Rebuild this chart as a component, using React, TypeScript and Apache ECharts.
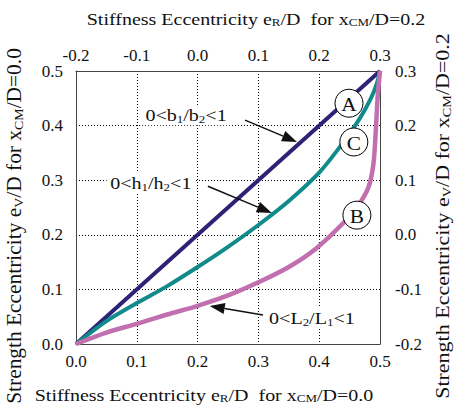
import React, { useEffect, useRef } from "react";
import * as echarts from "echarts";

// ---- data ----
const bottomXRange = [0, 0.5];
const topXRange = [-0.2, 0.3];
const leftYRange = [0, 0.5];
const rightYRange = [-0.2, 0.3];
const tickStep = 0.1;

const curveA: [number, number][] = [
  [0, 0],
  [0.5, 0.5],
];
const curveC: [number, number][] = [
  [0, 0], [0.05, 0.042], [0.1, 0.075], [0.15, 0.106], [0.2, 0.141], [0.25, 0.178],
  [0.3, 0.218], [0.35, 0.262], [0.4, 0.314], [0.434, 0.361], [0.465, 0.41],
  [0.485, 0.45], [0.495, 0.478], [0.5, 0.5],
];
const curveB: [number, number][] = [
  [0, 0], [0.05, 0.021], [0.1, 0.037], [0.15, 0.054], [0.2, 0.07], [0.25, 0.089],
  [0.3, 0.113], [0.35, 0.141], [0.395, 0.175], [0.44, 0.222], [0.465, 0.255],
  [0.481, 0.287], [0.489, 0.328], [0.493, 0.389], [0.496, 0.45], [0.5, 0.5],
];

const circleNames = ["A", "C", "B"];
const circlePositions: [number, number][] = [
  [0.449, 0.441],
  [0.457, 0.37],
  [0.462, 0.236],
];

const noteTexts = [
  "{n|0<b}{s|1}{n|/b}{s|2}{n|<1}",
  "{n|0<h}{s|1}{n|/h}{s|2}{n|<1}",
  "{n|0<L}{s|2}{n|/L}{s|1}{n|<1}",
];
const notePositions: [number, number][] = [
  [0.181, 0.419],
  [0.123, 0.295],
  [0.388, 0.048],
];
const arrowFrom: [number, number][] = [
  [0.278, 0.41],
  [0.217, 0.289],
  [0.3076, 0.053],
];
const arrowTo: [number, number][] = [
  [0.3635, 0.37],
  [0.322, 0.24],
  [0.22, 0.0696],
];

const titleTop = "{n|Stiffness Eccentricity e}{s|R}{n|/D  for x}{s|CM}{n|/D=0.2}";
const titleBottom = "{n|Stiffness Eccentricity e}{s|R}{n|/D  for x}{s|CM}{n|/D=0.0}";
const titleLeft = "{n|Strength Eccentricity e}{s|V}{n|/D for x}{s|CM}{n|/D=0.0}";
const titleRight = "{n|Strength Eccentricity e}{s|V}{n|/D for x}{s|CM}{n|/D=0.2}";

const FONT = "Liberation Serif, Times New Roman, Times, DejaVu Serif, serif";

export default function App() {
  const ref = useRef<HTMLDivElement>(null);

  useEffect(() => {
    const el = ref.current!;
    const chart = echarts.init(el, null, { renderer: "svg", width: 454, height: 408 });
    const fmt = (v: number) => (Math.abs(v) < 1e-9 ? "0.0" : v.toFixed(1));
    const label = (margin: number) => ({
      fontFamily: FONT,
      fontSize: 17,
      color: "#111",
      margin,
      formatter: fmt,
    });
    const frame = { show: true, onZero: false, lineStyle: { color: "#444", width: 1 } };
    const grid = { show: true, lineStyle: { color: "#000", width: 1, type: [1, 2] } };

    chart.setOption({
      animation: false,
      backgroundColor: "#fff",
      textStyle: { fontFamily: FONT },
      grid: { left: 76, right: 74, top: 71, bottom: 64, containLabel: false, outerBoundsMode: "none" },
      xAxis: [
        {
          type: "value", position: "bottom", min: bottomXRange[0], max: bottomXRange[1], interval: tickStep,
          axisLine: frame, axisTick: { show: false }, axisLabel: label(9), splitLine: grid,
        },
        {
          type: "value", position: "top", min: topXRange[0], max: topXRange[1], interval: tickStep,
          axisLine: frame, axisTick: { show: false }, axisLabel: label(7), splitLine: { show: false },
        },
      ],
      yAxis: [
        {
          type: "value", position: "left", min: leftYRange[0], max: leftYRange[1], interval: tickStep,
          axisLine: frame, axisTick: { show: false }, axisLabel: label(13), splitLine: grid,
        },
        {
          type: "value", position: "right", min: rightYRange[0], max: rightYRange[1], interval: tickStep,
          axisLine: frame, axisTick: { show: false }, axisLabel: label(15), splitLine: { show: false },
        },
      ],
      series: [
        {
          type: "line", name: "A", data: curveA, xAxisIndex: 0, yAxisIndex: 0, symbol: "none",
          lineStyle: { color: "#2C2276", width: 4 }, z: 3,
        },
        {
          type: "line", name: "C", data: curveC, xAxisIndex: 0, yAxisIndex: 0, symbol: "none",
          smooth: 0.3,
          lineStyle: { color: "#108A8A", width: 4 }, z: 4,
        },
        {
          type: "line", name: "B", data: curveB, xAxisIndex: 0, yAxisIndex: 0, symbol: "none",
          smooth: 0.3,
          lineStyle: { color: "#C26FB0", width: 4.5 }, z: 5,
        },
      ],
    });

    const px = (p: [number, number]) =>
      chart.convertToPixel({ xAxisIndex: 0, yAxisIndex: 0 }, p) as number[];

    const elements: any[] = [];

    circleNames.forEach((name, i) => {
      const [cx, cy] = px(circlePositions[i]);
      elements.push({
        type: "circle", z: 100,
        shape: { cx, cy, r: 14 },
        style: { fill: "#fff", stroke: "#000", lineWidth: 1 },
      });
      elements.push({
        type: "text", z: 101, x: cx, y: cy + 1, scaleX: 1.12,
        style: {
          text: name, fontFamily: FONT, fontSize: 19, fill: "#111",
          align: "center", verticalAlign: "middle", textAlign: "center", textVerticalAlign: "middle",
        },
      });
    });

    const noteRich = {
      n: { fontFamily: FONT, fontSize: 17, fill: "#111", lineHeight: 20, verticalAlign: "middle" },
      s: { fontFamily: FONT, fontSize: 11, fill: "#111", lineHeight: 11, verticalAlign: "bottom" },
    };
    noteTexts.forEach((t, i) => {
      const [x, y] = px(notePositions[i]);
      elements.push({
        type: "text", z: 100, x, y, scaleX: 1.18,
        style: {
          text: t, rich: noteRich, fontFamily: FONT, backgroundColor: "#fff", padding: [0, 3],
          align: "center", verticalAlign: "middle", textAlign: "center", textVerticalAlign: "middle",
        },
      });
      const [x1, y1] = px(arrowFrom[i]);
      const [x2, y2] = px(arrowTo[i]);
      const dx = x2 - x1, dy = y2 - y1;
      const len = Math.hypot(dx, dy);
      const ux = dx / len, uy = dy / len;
      const headLen = 15, headHalf = 5.5;
      const bx = x2 - ux * headLen, by = y2 - uy * headLen;
      elements.push({
        type: "line", z: 100,
        shape: { x1, y1, x2: bx, y2: by },
        style: { stroke: "#111", lineWidth: 1.5 },
      });
      elements.push({
        type: "polygon", z: 100,
        shape: {
          points: [
            [x2, y2],
            [bx - uy * headHalf, by + ux * headHalf],
            [bx + uy * headHalf, by - ux * headHalf],
          ],
        },
        style: { fill: "#111" },
      });
    });

    const titleRich = {
      n: { fontFamily: FONT, fontSize: 20, fill: "#111", lineHeight: 22, verticalAlign: "middle" },
      s: { fontFamily: FONT, fontSize: 13, fill: "#111", lineHeight: 13, verticalAlign: "bottom" },
    };
    const title = (text: string, x: number, y: number, rotation: number, scaleX: number, scaleY: number) => ({
      type: "text", z: 100, x, y, rotation, scaleX, scaleY,
      style: {
        text, rich: titleRich, fontFamily: FONT,
        align: "center", verticalAlign: "middle", textAlign: "center", textVerticalAlign: "middle",
      },
    });
    elements.push(title(titleTop, 256, 19, 0, 1, 0.85));
    elements.push(title(titleBottom, 204, 395, 0, 1, 0.85));
    elements.push(title(titleLeft, 14, 226, Math.PI / 2, 1.07, 1));
    elements.push(title(titleRight, 443, 216, Math.PI / 2, 1.1, 0.95));

    chart.setOption({ graphic: { elements } });

    return () => chart.dispose();
  }, []);

  return (
    <div
      ref={ref}
      style={{ position: "fixed", left: 0, top: 0, width: 454, height: 408, background: "#fff" }}
    />
  );
}
